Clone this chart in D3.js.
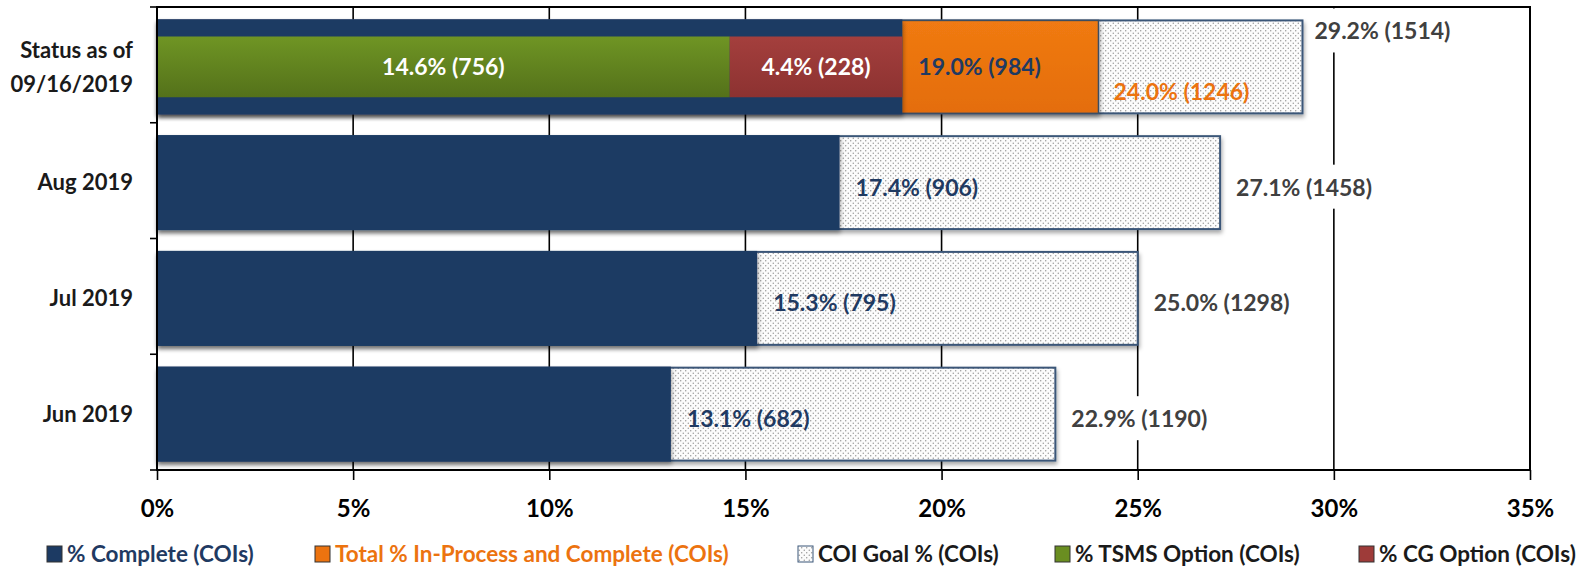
<!DOCTYPE html>
<html>
<head>
<meta charset="utf-8">
<script src="https://cdn.jsdelivr.net/npm/d3@7"></script>
<style>
  body { margin: 0; background: #fff; }
  text { font-family: Lato, "Open Sans", sans-serif; font-weight: bold; }
</style>
</head>
<body>
<div id="chart"></div>
<script>
'use strict';

// data
var categories = ['Status as of|09/16/2019', 'Aug 2019', 'Jul 2019', 'Jun 2019'];
var completePct = [19.0, 17.4, 15.3, 13.1];
var completeN = [984, 906, 795, 682];
var inProcessPct = [24.0, null, null, null];
var inProcessN = [1246, null, null, null];
var goalPct = [29.2, 27.1, 25.0, 22.9];
var goalN = [1514, 1458, 1298, 1190];
var tsmsPct = [14.6, null, null, null];
var tsmsN = [756, null, null, null];
var cgPct = [4.4, null, null, null];
var cgN = [228, null, null, null];
var xTicks = [0, 5, 10, 15, 20, 25, 30, 35];

var W = 1592, H = 569;
var margin = { top: 7, left: 157, right: 62, bottom: 99 };
var width = W - margin.left - margin.right,
  height = H - margin.top - margin.bottom;

var navy = '#1c3a63', navyText = '#1f3a62', orange = '#ec730f', green = '#6a8e21', red = '#9e3b39', grey = '#404040';
var fs = '23px';

var rows = categories.map(function (c, i) {
  return {
    cat: c, complete: completePct[i], completeN: completeN[i],
    inProc: inProcessPct[i], inProcN: inProcessN[i],
    goal: goalPct[i], goalN: goalN[i],
    tsms: tsmsPct[i], tsmsN: tsmsN[i], cg: cgPct[i], cgN: cgN[i]
  };
});

var x = d3.scaleLinear().domain([0, 35]).range([0, width]);
var y = d3.scaleBand().domain(categories).range([0, height]).paddingInner(0.18).paddingOuter(0.09);

var svg = d3.select('#chart').append('svg')
  .attr('width', W).attr('height', H);

var defs = svg.append('defs');
var pat = defs.append('pattern').attr('id', 'dots')
  .attr('patternUnits', 'userSpaceOnUse').attr('width', 5).attr('height', 5);
pat.append('rect').attr('width', 5).attr('height', 5).attr('fill', '#fcfcfc');
pat.append('circle').attr('cx', 1.25).attr('cy', 1.25).attr('r', 0.65).attr('fill', '#8c8c8c');
pat.append('circle').attr('cx', 3.75).attr('cy', 3.75).attr('r', 0.65).attr('fill', '#8c8c8c');

var shadow = defs.append('filter').attr('id', 'shadow')
  .attr('x', '-5%').attr('y', '-10%').attr('width', '110%').attr('height', '130%');
shadow.append('feDropShadow').attr('dx', 1).attr('dy', 3).attr('stdDeviation', 2)
  .attr('flood-color', '#000').attr('flood-opacity', 0.35);

function grad(id, c1, c2) {
  var g = defs.append('linearGradient').attr('id', id)
    .attr('x1', 0).attr('y1', 0).attr('x2', 0).attr('y2', 1);
  g.append('stop').attr('offset', '0%').attr('stop-color', c1);
  g.append('stop').attr('offset', '100%').attr('stop-color', c2);
}
grad('gGreen', '#6f9524', '#54711a');
grad('gRed', '#a43f3d', '#8c3231');
grad('gOrange', '#f07a12', '#e46d0c');

var g = svg.append('g')
  .attr('transform', 'translate(' + margin.left + ',' + margin.top + ')');

// gridlines
g.selectAll('.grid').data(xTicks.slice(1, -1)).enter().append('line')
  .attr('x1', function (d) { return x(d); }).attr('x2', function (d) { return x(d); })
  .attr('y1', 0).attr('y2', height)
  .attr('stroke', '#000').attr('stroke-width', 1.6);

var off = 2;
var bh = y.bandwidth();

// goal bars
g.selectAll('.goal').data(rows).enter().append('rect')
  .attr('x', 0).attr('y', function (d) { return y(d.cat) + off + 1; })
  .attr('width', function (d) { return x(d.goal); }).attr('height', bh - 2)
  .attr('fill', 'url(#dots)').attr('stroke', '#3b5678').attr('stroke-width', 2)
  .attr('filter', 'url(#shadow)');

// in-process bars
g.selectAll('.inproc').data(rows.filter(function (d) { return d.inProc != null; })).enter().append('rect')
  .attr('x', 0).attr('y', function (d) { return y(d.cat) + off + 1; })
  .attr('width', function (d) { return x(d.inProc); }).attr('height', bh - 2)
  .attr('fill', 'url(#gOrange)').attr('stroke', '#3b4e63').attr('stroke-width', 1.5)
  .attr('filter', 'url(#shadow)');

// complete bars
g.selectAll('.complete').data(rows).enter().append('rect')
  .attr('x', 0).attr('y', function (d) { return y(d.cat) + off; })
  .attr('width', function (d) { return x(d.complete); }).attr('height', bh)
  .attr('fill', navy).attr('filter', 'url(#shadow)');

// inner stacked option bars
var innerH = bh * 0.64;
var opt = rows.filter(function (d) { return d.tsms != null; });
g.selectAll('.tsms').data(opt).enter().append('rect')
  .attr('x', 0).attr('y', function (d) { return y(d.cat) + off + (bh - innerH) / 2; })
  .attr('width', function (d) { return x(d.tsms); }).attr('height', innerH)
  .attr('fill', 'url(#gGreen)');
g.selectAll('.cg').data(opt).enter().append('rect')
  .attr('x', function (d) { return x(d.tsms); })
  .attr('y', function (d) { return y(d.cat) + off + (bh - innerH) / 2; })
  .attr('width', function (d) { return x(d.tsms + d.cg) - x(d.tsms); }).attr('height', innerH)
  .attr('fill', 'url(#gRed)');

// frame
g.append('rect').attr('x', 0).attr('y', 0).attr('width', width).attr('height', height)
  .attr('fill', 'none').attr('stroke', '#000').attr('stroke-width', 2);

// axes
var xAxis = g.append('g').attr('transform', 'translate(0,' + height + ')')
  .call(d3.axisBottom(x).tickValues(xTicks).tickSize(10).tickPadding(20)
    .tickFormat(function (d) { return d + '%'; }));
xAxis.select('.domain').remove();
xAxis.selectAll('line').attr('stroke', '#000').attr('stroke-width', 1.6);
xAxis.selectAll('text').style('font-size', '24px').attr('fill', '#000')
  .style('font-family', 'Lato, sans-serif');

var yTickPos = d3.range(categories.length + 1).map(function (i) { return i * height / categories.length; });
g.selectAll('.ytick').data(yTickPos).enter().append('line')
  .attr('x1', -7).attr('x2', 0)
  .attr('y1', function (d) { return d; }).attr('y2', function (d) { return d; })
  .attr('stroke', '#000').attr('stroke-width', 1.6);

var yl = g.selectAll('.ylab').data(rows).enter().append('text')
  .attr('text-anchor', 'end').attr('fill', '#1a1a1a').style('font-size', '22px')
  .attr('x', -24)
  .attr('y', function (d) { return y(d.cat) + off + bh / 2; });
yl.each(function (d) {
  var parts = d.cat.split('|');
  var t = d3.select(this);
  parts.forEach(function (p, i) {
    t.append('tspan').attr('x', -24)
      .attr('dy', i === 0 ? (0.35 - (parts.length - 1) * 0.77) + 'em' : '1.55em')
      .text(p);
  });
});

// labels
function lbl(d) { return d.toFixed(1) + '%'; }
function cy(d) { return y(d.cat) + off + bh / 2; }
function ly(d) { return cy(d) + (d.inProc != null ? 0 : 5); }

// goal labels with white boxes
g.selectAll('.goalLab').data(rows).enter().append('text')
  .attr('x', function (d) { return x(d.goal) + (d.inProc != null ? 12 : 16); })
  .attr('y', function (d) { return d.inProc != null ? y(d.cat) + 14 : ly(d); })
  .attr('dy', '0.35em').attr('fill', grey).style('font-size', fs)
  .text(function (d) { return lbl(d.goal) + ' (' + d.goalN + ')'; })
  .each(function () {
    var b = this.getBBox();
    var node = this;
    d3.select(this.parentNode).insert('rect', function () { return node; })
      .attr('x', b.x - 3).attr('y', b.y + b.height / 2 - 22)
      .attr('width', b.width + 6).attr('height', 44)
      .attr('fill', '#fff');
  });

// complete labels
g.selectAll('.compLab').data(rows).enter().append('text')
  .attr('x', function (d) { return x(d.complete) + 16; })
  .attr('y', ly).attr('dy', '0.35em').attr('fill', navyText).style('font-size', fs)
  .text(function (d) { return lbl(d.complete) + ' (' + d.completeN + ')'; });

// in-process labels
g.selectAll('.ipLab').data(rows.filter(function (d) { return d.inProc != null; })).enter().append('text')
  .attr('x', function (d) { return x(d.inProc) + 15; })
  .attr('y', function (d) { return cy(d) + 25; }).attr('dy', '0.35em')
  .attr('fill', orange).style('font-size', fs)
  .text(function (d) { return lbl(d.inProc) + ' (' + d.inProcN + ')'; });

// option labels
g.selectAll('.tsmsLab').data(opt).enter().append('text')
  .attr('x', function (d) { return x(d.tsms / 2); }).attr('y', cy).attr('dy', '0.35em')
  .attr('text-anchor', 'middle').attr('fill', '#fff').style('font-size', fs)
  .text(function (d) { return lbl(d.tsms) + ' (' + d.tsmsN + ')'; });
g.selectAll('.cgLab').data(opt).enter().append('text')
  .attr('x', function (d) { return x(d.tsms + d.cg / 2); }).attr('y', cy).attr('dy', '0.35em')
  .attr('text-anchor', 'middle').attr('fill', '#fff').style('font-size', fs)
  .text(function (d) { return lbl(d.cg) + ' (' + d.cgN + ')'; });

// legend
var legend = [
  { name: '% Complete (COIs)', fill: navy, text: navyText, x: 47 },
  { name: 'Total % In-Process and Complete (COIs)', fill: orange, text: orange, x: 315 },
  { name: 'COI Goal % (COIs)', fill: 'url(#dots)', text: '#1a1a1a', x: 798 },
  { name: '% TSMS Option (COIs)', fill: green, text: '#1a1a1a', x: 1055 },
  { name: '% CG Option (COIs)', fill: red, text: '#1a1a1a', x: 1359 }
];
var lg = svg.selectAll('.leg').data(legend).enter().append('g')
  .attr('transform', function (d) { return 'translate(' + d.x + ',554)'; });
lg.append('rect').attr('x', 0).attr('y', -8).attr('width', 15).attr('height', 16)
  .attr('fill', function (d) { return d.fill; })
  .attr('stroke', function (d) { return d.fill === 'url(#dots)' ? '#3b5678' : '#333'; })
  .attr('stroke-width', 1);
lg.append('text').attr('x', 20).attr('dy', '0.35em').style('font-size', '22.5px')
  .attr('fill', function (d) { return d.text; })
  .text(function (d) { return d.name; });
</script>
</body>
</html>
